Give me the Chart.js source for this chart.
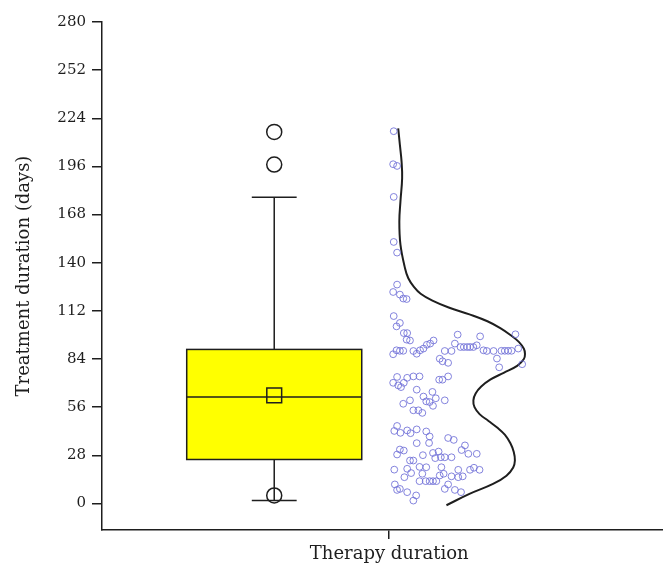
<!DOCTYPE html>
<html>
<head>
<meta charset="utf-8">
<script src="https://cdn.jsdelivr.net/npm/chart.js@4.4.1/dist/chart.umd.min.js"></script>
<style>
  html, body { margin: 0; padding: 0; background: #ffffff; }
  #wrap { width: 663px; height: 568px; }
</style>
</head>
<body>
<div id="wrap"><canvas id="c" width="663" height="568"></canvas></div>
<script>
// Category and axis ticks
const categories = ['Therapy duration'];
const yTicks = [0, 28, 56, 84, 112, 140, 168, 196, 224, 252, 280];

// Box summary: [lower whisker, Q1, median, Q3, upper whisker]
const boxStats = [1.7, 25.6, 61.9, 89.6, 178.1];
const meanValue = [62.9];
const outlierDays = [4.7, 197.1, 216.1];

// Individual treatment durations (days) and their horizontal jitter
const pointDays = [
  216.5, 197.3, 196.3, 178.3, 152.1, 145.9, 127.3, 123.0, 121.5, 119.2, 118.9,
  109.0, 105.0, 103.0, 99.1, 99.1, 94.8, 95.3, 98.2, 97.2, 98.4, 93.0, 94.8, 93.0, 92.3,
  91.0, 91.0, 91.0, 91.0, 91.0, 92.0, 90.1, 89.1, 88.7, 87.1, 88.8, 88.8, 89.1, 86.8,
  88.7, 88.7, 89.1, 88.7, 88.7, 88.8, 88.8, 88.8, 88.8, 90.1, 84.3, 79.2, 81.0,
  84.2, 82.7, 81.8, 73.6, 73.1, 73.9, 73.9, 70.2, 68.7, 70.2, 67.7, 72.0, 72.0, 73.9,
  66.2, 64.9, 62.2, 59.4, 59.0, 61.2, 60.0, 56.8, 60.0, 58.0, 54.2, 54.2, 52.7,
  45.1, 42.2, 41.1, 42.5, 40.9, 43.1, 41.9, 39.0, 35.2, 35.1, 38.1, 37.0,
  31.4, 30.8, 28.5, 28.1, 29.4, 30.2, 26.4, 26.9, 26.9, 26.9, 25.0, 25.0,
  31.1, 33.8, 28.9, 28.9, 19.7, 20.2, 17.7, 15.3, 21.3, 21.1, 17.3, 21.1, 17.3, 16.3,
  19.6, 15.8, 15.3, 15.8, 19.6, 20.8, 19.6, 13.0, 13.0, 13.0, 13.0, 13.0,
  11.1, 7.9, 8.5, 6.6, 4.7, 1.7, 8.5, 11.1, 7.9, 6.6
];
const pointJitter = [
  0.8, 0.7, 1.4, 0.8, 0.8, 1.4, 1.4, 0.7, 1.9, 2.5, 3.1,
  0.8, 1.9, 1.3, 2.6, 3.2, 3.7, 3.1, 12.2, 16.2, 22.5, 11.7, 7.9, 7.3, 6.7,
  12.7, 13.3, 13.9, 14.4, 15.0, 15.6, 6.1, 5.5, 4.3, 4.9, 2.5, 1.9, 1.3, 0.7,
  9.9, 11.1, 16.8, 17.4, 18.6, 20.0, 20.6, 21.2, 21.8, 23.0, 19.2, 19.6, 23.7,
  9.0, 9.5, 10.5, 1.4, 3.2, 4.3, 5.4, 0.7, 1.6, 2.6, 2.1, 8.9, 9.5, 10.5,
  4.9, 7.7, 6.1, 6.6, 7.2, 8.3, 9.9, 7.8, 3.7, 2.5, 4.3, 5.2, 5.9,
  1.4, 0.9, 2.0, 3.2, 3.8, 4.9, 6.6, 7.2, 7.1, 4.9, 10.5, 11.5,
  1.9, 2.6, 1.4, 6.0, 7.8, 8.8, 8.2, 9.2, 9.9, 11.1, 3.7, 4.3,
  12.9, 13.5, 14.1, 15.6, 0.9, 3.2, 3.9, 2.7, 5.4, 6.6, 5.9, 9.3, 9.7, 9.0,
  12.3, 13.1, 12.3, 11.1, 14.4, 15.1, 16.1, 5.4, 6.5, 7.2, 7.8, 8.4,
  1.0, 1.4, 1.9, 3.2, 4.8, 4.3, 9.9, 10.5, 11.7, 12.8
];

// Distribution curve: duration (days) and relative density width
const curveDays = [
  -1, 5.6, 11.4, 16.2, 21, 25, 30, 35, 40, 44, 48, 52, 56, 60, 64, 68, 72, 76,
  80, 84, 87, 90, 94, 98, 102, 106, 110, 114, 118, 122, 126, 131, 137,
  150.5, 164, 175.7, 189.2, 198.8, 208.5, 218.1
];
const curveDensity = [
  10.2, 14.3, 18.5, 20.9, 22.1, 22.4, 22.2, 21.6, 20.6, 19.3, 17.7, 16.1, 15.2, 15.0, 15.4, 16.4, 18.0, 20.4,
  22.8, 24.0, 24.2, 24.0, 23.1, 21.6, 19.8, 17.5, 14.3, 10.6, 7.7, 5.6, 4.4, 3.4, 2.8,
  2.0, 1.8, 2.0, 2.3, 2.2, 1.9, 1.6
];

// Horizontal layout of the group on a 0–100 axis
const catPos = 51.2;          // category tick
const boxPos = catPos - 20.5; // box sits left of the raw data
const boxHalf = 15.6;
const capHalf = 4.0;

const serif = "'DejaVu Serif', 'Liberation Serif', serif";
const ink = '#1e1e1e';

const boxPlot = {
  id: 'boxPlot',
  beforeDatasetsDraw(chart) {
    const { ctx, scales: { x, y } } = chart;
    const [lo, q1, med, q3, hi] = boxStats;
    const cx = x.getPixelForValue(boxPos);
    const l = x.getPixelForValue(boxPos - boxHalf);
    const r = x.getPixelForValue(boxPos + boxHalf);
    const cl = x.getPixelForValue(boxPos - capHalf);
    const cr = x.getPixelForValue(boxPos + capHalf);
    const yTop = y.getPixelForValue(q3);
    const yBot = y.getPixelForValue(q1);
    const yHi = y.getPixelForValue(hi);
    const yLo = y.getPixelForValue(lo);
    const yMed = y.getPixelForValue(med);
    ctx.save();
    ctx.lineWidth = 1.5;
    ctx.strokeStyle = ink;
    ctx.beginPath();
    ctx.moveTo(cx, yTop); ctx.lineTo(cx, yHi);
    ctx.moveTo(cl, yHi); ctx.lineTo(cr, yHi);
    ctx.moveTo(cx, yBot); ctx.lineTo(cx, yLo);
    ctx.moveTo(cl, yLo); ctx.lineTo(cr, yLo);
    ctx.stroke();
    ctx.fillStyle = '#ffff00';
    ctx.fillRect(l, yTop, r - l, yBot - yTop);
    ctx.strokeRect(l, yTop, r - l, yBot - yTop);
    ctx.beginPath();
    ctx.moveTo(l, yMed); ctx.lineTo(r, yMed);
    ctx.stroke();
    ctx.restore();
  }
};

const rawPoints = pointDays.map((d, i) => ({ x: catPos + pointJitter[i], y: d }));
const curvePoints = curveDays.map((d, i) => ({ x: catPos + curveDensity[i], y: d }));
const outlierPoints = outlierDays.map(d => ({ x: boxPos, y: d }));
const meanPoints = meanValue.map(d => ({ x: boxPos, y: d }));

new Chart(document.getElementById('c'), {
  type: 'scatter',
  data: {
    datasets: [
      {
        label: 'Data',
        data: rawPoints,
        pointStyle: 'circle',
        pointRadius: 3.4,
        pointBorderWidth: 1,
        pointBorderColor: 'rgba(110,110,215,0.85)',
        pointBackgroundColor: 'rgba(0,0,0,0)'
      },
      {
        label: 'Distribution',
        data: curvePoints,
        showLine: true,
        borderColor: ink,
        borderWidth: 2,
        tension: 0.4,
        pointRadius: 0,
        fill: false
      },
      {
        label: 'Outliers',
        data: outlierPoints,
        pointStyle: 'circle',
        pointRadius: 7.5,
        pointBorderWidth: 1.5,
        pointBorderColor: ink,
        pointBackgroundColor: 'rgba(0,0,0,0)'
      },
      {
        label: 'Mean',
        data: meanPoints,
        pointStyle: 'rect',
        pointRadius: 10.5,
        pointBorderWidth: 1.5,
        pointBorderColor: ink,
        pointBackgroundColor: 'rgba(0,0,0,0)'
      }
    ]
  },
  options: {
    responsive: false,
    animation: false,
    devicePixelRatio: 1,
    layout: { autoPadding: false, padding: { top: 22, right: 0, bottom: 0, left: 0 } },
    plugins: { legend: { display: false }, tooltip: { enabled: false } },
    scales: {
      x: {
        type: 'linear',
        min: 0,
        max: 100,
        afterBuildTicks: s => { s.ticks = [{ value: catPos }]; },
        afterFit: s => { s.height = 38; },
        ticks: {
          autoSkip: false,
          maxRotation: 0,
          padding: 5,
          color: ink,
          font: { family: serif, size: 18 },
          callback: () => categories[0]
        },
        grid: { drawOnChartArea: false, drawTicks: true, tickLength: 9, color: ink, lineWidth: 1.5 },
        border: { display: true, color: ink, width: 1.5 }
      },
      y: {
        type: 'linear',
        min: -15.4,
        max: 280,
        afterBuildTicks: s => { s.ticks = yTicks.map(v => ({ value: v })); },
        afterFit: s => { s.width = 102; },
        ticks: {
          autoSkip: false,
          padding: 6,
          color: ink,
          font: { family: serif, size: 15 },
          callback: v => String(v)
        },
        grid: { drawOnChartArea: false, drawTicks: true, tickLength: 10, color: ink, lineWidth: 1.5 },
        border: { display: true, color: ink, width: 1.5 },
        title: {
          display: true,
          text: 'Treatment duration (days)',
          color: ink,
          font: { family: serif, size: 18 },
          padding: { top: 14, bottom: 0 }
        }
      }
    }
  },
  plugins: [boxPlot]
});
</script>
</body>
</html>
